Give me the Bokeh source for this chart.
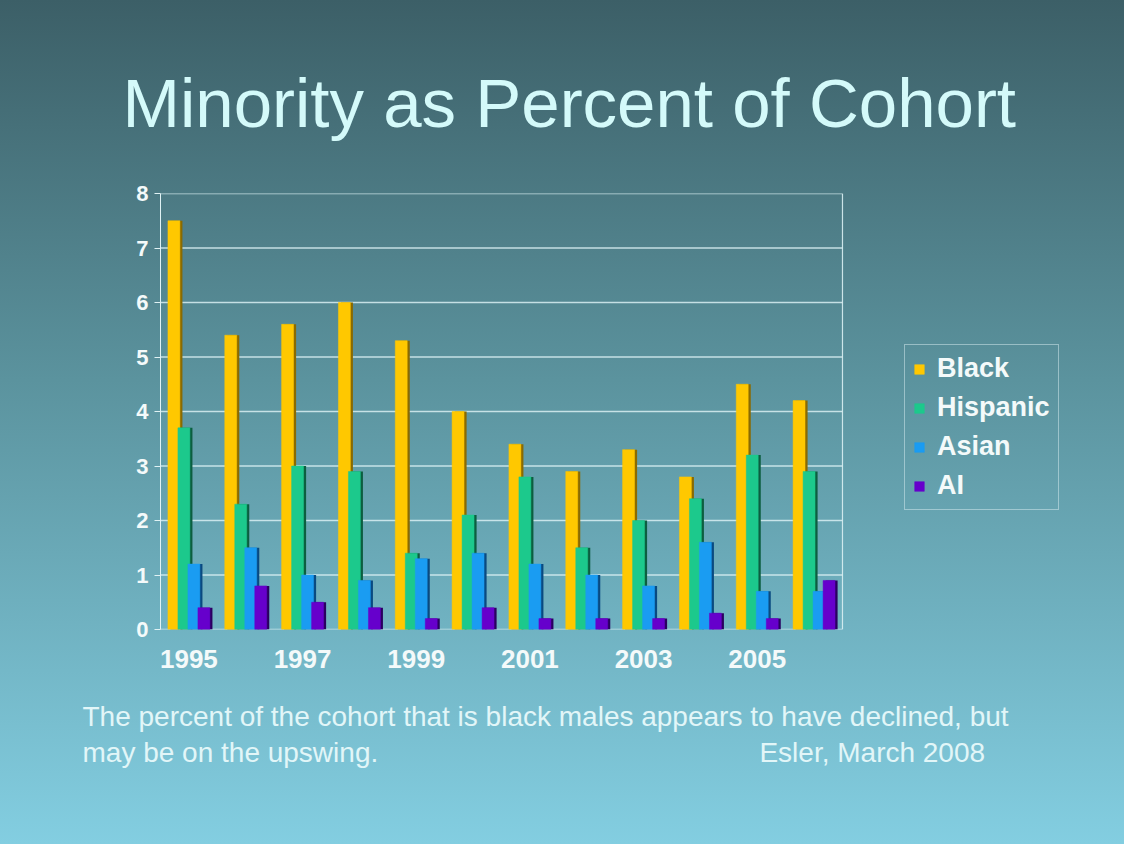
from bokeh.plotting import figure
from bokeh.models import (ColumnDataSource, Range1d, Legend, LegendItem,
                          FixedTicker, Title)
from bokeh.transform import dodge
from bokeh.embed import file_html
from bokeh.resources import INLINE

# ---- data ----
years = [1995, 1996, 1997, 1998, 1999, 2000, 2001, 2002, 2003, 2004, 2005, 2006]
black = [7.5, 5.4, 5.6, 6.0, 5.3, 4.0, 3.4, 2.9, 3.3, 2.8, 4.5, 4.2]
hispanic = [3.7, 2.3, 3.0, 2.9, 1.4, 2.1, 2.8, 1.5, 2.0, 2.4, 3.2, 2.9]
asian = [1.2, 1.5, 1.0, 0.9, 1.3, 1.4, 1.2, 1.0, 0.8, 1.6, 0.7, 0.7]
ai = [0.4, 0.8, 0.5, 0.4, 0.2, 0.4, 0.2, 0.2, 0.2, 0.3, 0.2, 0.9]
series_names = ["Black", "Hispanic", "Asian", "AI"]
shown_year_labels = ["1995", "1997", "1999", "2001", "2003", "2005"]
y_ticks = [0, 1, 2, 3, 4, 5, 6, 7, 8]

title_text = "Minority as Percent of Cohort"
note_line1 = "The percent of the cohort that is black males appears to have declined, but"
note_line2 = "may be on the upswing."
credit = "Esler, March 2008"

# ---- style ----
colors = ["#ffc800", "#1cc98c", "#1a9cf2", "#6600cc"]
side_colors = ["#8a6a00", "#0c5e40", "#0a4a80", "#2a0060"]
offsets = [-0.264, -0.088, 0.088, 0.264]
FONT = "Liberation Sans"
TXT = "#f4fafa"
FRAME_LINE = "#d9eef2"

plot_left = years[0] - 0.5
plot_right = years[-1] + 0.5
legend_room = 4.54          # extra x-extent (in year units) that holds the legend

src = ColumnDataSource(dict(year=years, Black=black, Hispanic=hispanic, Asian=asian, AI=ai))

p = figure(width=1124, height=844,
           x_range=Range1d(plot_left, plot_right + legend_room),
           y_range=Range1d(y_ticks[0], y_ticks[-1]),
           output_backend="svg", toolbar_location=None,
           min_border_left=160, min_border_right=24, min_border_top=193, min_border_bottom=215)
p.styles = {"background": "linear-gradient(to bottom, #3c5f67 0%, #5b939e 45%, #83cee1 100%)"}
p.border_fill_alpha = 0
p.background_fill_alpha = 0
p.outline_line_color = None

# title
p.title.text = title_text
p.title.text_font = FONT
p.title.text_font_size = "69px"
p.title.text_font_style = "normal"
p.title.text_color = "#d4fafa"
p.title.align = "left"
p.title.offset = -38
p.title.standoff = 103

# grid lines and plot-area border, limited to the chart's own extent
p.xgrid.grid_line_color = None
p.ygrid.grid_line_color = None
p.segment(x0=[plot_left] * len(y_ticks), x1=[plot_right] * len(y_ticks), y0=y_ticks, y1=y_ticks,
          line_color=FRAME_LINE, line_alpha=0.85, line_width=1.4)
p.segment(x0=[plot_right], x1=[plot_right], y0=[y_ticks[0]], y1=[y_ticks[-1]],
          line_color=FRAME_LINE, line_alpha=0.9, line_width=1.2)

# axes
p.yaxis.ticker = FixedTicker(ticks=y_ticks)
p.yaxis.axis_line_color = "#e0f2f4"
p.yaxis.major_tick_line_color = "#e0f2f4"
p.yaxis.major_tick_out = 6
p.yaxis.major_tick_in = 0
p.yaxis.minor_tick_line_color = None
p.yaxis.major_label_standoff = 6
p.yaxis.major_label_text_font = FONT
p.yaxis.major_label_text_font_style = "bold"
p.yaxis.major_label_text_font_size = "22px"
p.yaxis.major_label_text_color = TXT

p.xaxis.ticker = FixedTicker(ticks=[int(s) for s in shown_year_labels])
p.xaxis.major_label_overrides = {int(s): s for s in shown_year_labels}
p.xaxis.axis_line_color = None
p.xaxis.major_tick_line_color = None
p.xaxis.minor_tick_line_color = None
p.xaxis.major_label_standoff = 14
p.xaxis.major_label_text_font = FONT
p.xaxis.major_label_text_font_style = "bold"
p.xaxis.major_label_text_font_size = "26px"
p.xaxis.major_label_text_color = TXT

# bars (with a dark side face for a 3D look)
renderers = []
for name, col, side, off in zip(series_names, colors, side_colors, offsets):
    p.vbar(x=dodge("year", off + 0.045), top=name, width=0.21,
           source=src, fill_color=side, line_color=None)
    r = p.vbar(x=dodge("year", off), top=name, width=0.21,
               source=src, fill_color=col, line_color=col, line_width=0.5)
    renderers.append(r)

legend = Legend(items=[LegendItem(label=n, renderers=[r]) for n, r in zip(series_names, renderers)],
                location=(744, 119), orientation="vertical")
legend.label_text_font = FONT
legend.label_text_font_style = "bold"
legend.label_text_font_size = "27px"
legend.label_text_color = TXT
legend.glyph_width = 12
legend.glyph_height = 12
legend.label_standoff = 12
legend.label_height = 31
legend.spacing = 8
legend.padding = 8
legend.margin = 0
legend.background_fill_alpha = 0
legend.border_line_color = FRAME_LINE
legend.border_line_width = 1.2
p.add_layout(legend, "center")

# notes (two lines; credit on the second line)
pad = "\u00a0" * 49
notes = Title(text=note_line1 + "\n" + note_line2 + pad + credit, standoff=57,
              text_font=FONT, text_font_size="28px", text_font_style="normal",
              text_line_height=1.15, text_color="#e2f6f8", align="left", offset=-78)
p.add_layout(notes, "below")

open("out.html", "w").write(file_html(p, INLINE))
